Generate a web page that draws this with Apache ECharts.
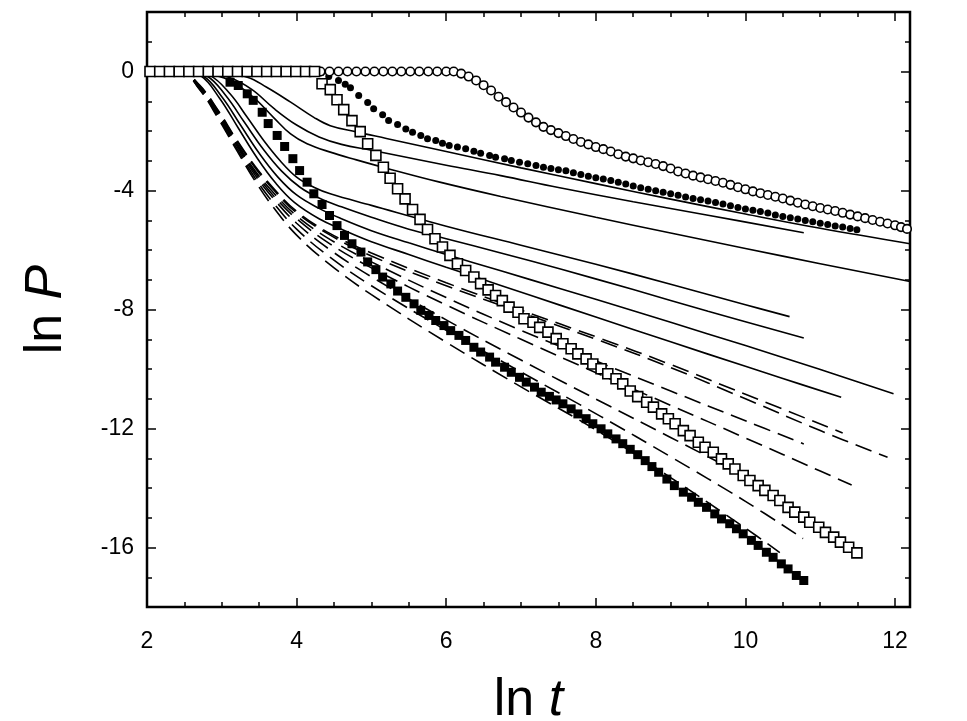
<!DOCTYPE html>
<html>
<head>
<meta charset="utf-8">
<script src="https://cdn.jsdelivr.net/npm/echarts@6.0.0/dist/echarts.min.js"></script>
<style>
  html, body { margin: 0; padding: 0; background: #fff; }
  #chart { width: 967px; height: 721px; }
</style>
</head>
<body>
<div id="chart"></div>
<script>
// tick labels
var xLabels = [2, 4, 6, 8, 10, 12];
var yLabels = [-16, -12, -8, -4, 0];

// open circles
var circles = [
  [2.04,0],[2.16,0],[2.28,0],[2.40,0],[2.52,0],[2.64,0],[2.76,0],[2.88,0],[3.00,0],[3.12,0],
  [3.24,0],[3.36,0],[3.48,0],[3.60,0],[3.72,0],[3.84,0],[3.96,0],[4.08,0],[4.20,0],[4.32,0],
  [4.44,0],[4.56,0],[4.68,0],[4.80,0],[4.92,0],[5.04,0],[5.16,0],[5.28,0],[5.40,0],[5.52,0],
  [5.64,0],[5.76,0],[5.88,0],[6.00,0],[6.10,0],
  [6.20,-0.07],[6.30,-0.17],[6.40,-0.30],[6.50,-0.46],[6.60,-0.64],[6.70,-0.85],[6.80,-1.03],
  [6.90,-1.21],[7.00,-1.38],[7.10,-1.55],[7.20,-1.71],[7.30,-1.86],[7.40,-1.97],[7.50,-2.07],
  [7.60,-2.17],[7.70,-2.27],[7.80,-2.37],[7.90,-2.45],[8.00,-2.54],[8.10,-2.61],[8.20,-2.69],
  [8.30,-2.78],[8.40,-2.86],[8.50,-2.92],[8.60,-2.99],[8.70,-3.05],[8.80,-3.11],[8.90,-3.18],
  [9.00,-3.26],[9.10,-3.36],[9.20,-3.43],[9.30,-3.50],[9.40,-3.56],[9.50,-3.62],[9.60,-3.68],
  [9.70,-3.74],[9.80,-3.81],[9.90,-3.89],[10.00,-3.96],[10.10,-4.03],[10.20,-4.09],[10.30,-4.15],
  [10.40,-4.21],[10.50,-4.27],[10.60,-4.34],[10.70,-4.41],[10.80,-4.47],[10.90,-4.53],[11.00,-4.59],
  [11.10,-4.64],[11.20,-4.69],[11.30,-4.75],[11.40,-4.81],[11.50,-4.87],[11.60,-4.93],[11.70,-4.99],
  [11.80,-5.05],[11.90,-5.11],[12.00,-5.17],[12.08,-5.23],[12.16,-5.29]
];

// small filled stars
var stars = [
  [2.04,0],[2.17,0],[2.30,0],[2.43,0],[2.56,0],[2.69,0],[2.82,0],[2.95,0],[3.08,0],[3.21,0],
  [3.34,0],[3.47,0],[3.60,0],[3.73,0],[3.86,0],[3.99,0],[4.12,0],[4.24,0],
  [4.33,-0.04],[4.43,-0.17],[4.56,-0.30],[4.65,-0.43],[4.72,-0.55],[4.83,-0.81],[4.95,-1.04],
  [5.03,-1.25],[5.15,-1.45],[5.23,-1.65],[5.35,-1.78],[5.46,-1.93],[5.55,-2.04],[5.66,-2.15],
  [5.75,-2.26],[5.86,-2.32],[5.95,-2.41],[6.04,-2.49],[6.15,-2.54],[6.26,-2.60],[6.37,-2.68],
  [6.46,-2.75],[6.58,-2.82],[6.66,-2.88],[6.78,-2.93],[6.87,-2.99],[6.98,-3.05],[7.09,-3.10],
  [7.20,-3.16],[7.30,-3.22],[7.40,-3.26],[7.50,-3.30],[7.60,-3.34],[7.70,-3.40],[7.80,-3.46],
  [7.90,-3.52],[8.00,-3.57],[8.10,-3.61],[8.20,-3.66],[8.30,-3.72],[8.40,-3.78],[8.50,-3.85],
  [8.60,-3.91],[8.70,-3.96],[8.80,-4.01],[8.90,-4.06],[9.00,-4.11],[9.10,-4.16],[9.20,-4.22],
  [9.30,-4.27],[9.40,-4.31],[9.50,-4.35],[9.60,-4.40],[9.70,-4.45],[9.80,-4.51],[9.90,-4.57],
  [10.00,-4.62],[10.10,-4.66],[10.20,-4.71],[10.30,-4.76],[10.40,-4.82],[10.50,-4.87],[10.60,-4.92],
  [10.70,-4.96],[10.80,-5.01],[10.90,-5.05],[11.00,-5.10],[11.10,-5.14],[11.20,-5.19],[11.30,-5.23],
  [11.40,-5.28],[11.49,-5.32]
];

// open squares
var openSquares = [
  [2.04,0],[2.17,0],[2.30,0],[2.43,0],[2.56,0],[2.69,0],[2.82,0],[2.95,0],[3.08,0],[3.21,0],
  [3.34,0],[3.47,0],[3.60,0],[3.73,0],[3.86,0],[3.99,0],[4.12,0],[4.24,0],
  [4.34,-0.41],[4.45,-0.61],[4.54,-0.95],[4.63,-1.28],[4.74,-1.65],[4.85,-2.02],[4.95,-2.43],
  [5.06,-2.82],[5.16,-3.22],[5.25,-3.59],[5.35,-3.94],[5.45,-4.28],[5.55,-4.64],[5.65,-4.97],
  [5.75,-5.31],[5.85,-5.62],[5.95,-5.90],[6.05,-6.18],[6.15,-6.46],[6.26,-6.69],[6.37,-6.91],
  [6.46,-7.13],[6.56,-7.34],[6.66,-7.53],[6.75,-7.70],[6.84,-7.92],[6.96,-8.09],[7.04,-8.31],
  [7.16,-8.43],[7.25,-8.60],[7.36,-8.76],[7.47,-8.98],[7.56,-9.15],[7.67,-9.32],[7.76,-9.49],
  [7.87,-9.66],[7.96,-9.83],[8.07,-9.99],[8.16,-10.16],[8.27,-10.33],[8.36,-10.50],[8.46,-10.74],
  [8.56,-10.93],[8.68,-11.12],[8.77,-11.28],[8.88,-11.51],[8.97,-11.67],[9.06,-11.84],[9.17,-12.07],
  [9.26,-12.24],[9.37,-12.46],[9.46,-12.63],[9.57,-12.80],[9.68,-13.02],[9.77,-13.19],[9.86,-13.36],
  [9.97,-13.58],[10.06,-13.75],[10.17,-13.92],[10.26,-14.08],[10.37,-14.25],[10.46,-14.42],
  [10.57,-14.65],[10.66,-14.81],[10.78,-14.98],[10.86,-15.15],[10.98,-15.32],[11.07,-15.49],
  [11.18,-15.65],[11.27,-15.82],[11.38,-15.99],[11.49,-16.18]
];

// filled squares
var filledSquares = [
  [3.11,-0.36],[3.22,-0.47],[3.34,-0.75],[3.42,-0.97],[3.54,-1.37],[3.62,-1.75],[3.74,-2.15],
  [3.84,-2.52],[3.95,-2.93],[4.04,-3.33],[4.14,-3.72],[4.23,-4.11],[4.34,-4.47],[4.44,-4.84],
  [4.54,-5.18],[4.64,-5.51],[4.74,-5.79],[4.86,-6.07],[4.95,-6.40],[5.06,-6.66],[5.15,-6.91],
  [5.26,-7.14],[5.35,-7.38],[5.46,-7.59],[5.57,-7.81],[5.66,-8.03],[5.77,-8.20],[5.86,-8.37],
  [5.97,-8.54],[6.06,-8.71],[6.17,-8.87],[6.26,-9.04],[6.37,-9.27],[6.46,-9.43],[6.58,-9.60],
  [6.66,-9.77],[6.78,-9.94],[6.87,-10.11],[6.98,-10.28],[7.07,-10.44],[7.18,-10.61],[7.27,-10.78],
  [7.38,-10.92],[7.47,-11.04],[7.56,-11.17],[7.67,-11.34],[7.76,-11.51],[7.87,-11.67],[7.96,-11.84],
  [8.07,-12.01],[8.16,-12.18],[8.27,-12.35],[8.36,-12.51],[8.46,-12.70],[8.56,-12.88],[8.66,-13.08],
  [8.75,-13.28],[8.84,-13.47],[8.95,-13.70],[9.05,-13.92],[9.17,-14.14],[9.28,-14.31],[9.37,-14.48],
  [9.48,-14.65],[9.59,-14.87],[9.68,-15.04],[9.79,-15.20],[9.88,-15.37],[9.97,-15.54],[10.08,-15.76],
  [10.17,-15.93],[10.28,-16.16],[10.37,-16.33],[10.48,-16.55],[10.57,-16.72],[10.68,-16.94],[10.78,-17.11]
];

// solid curves
var solid1 = [[2,0],[2.7,0],[3.1,-0.2],[3.4,-0.6],[3.7,-1.25],[4.0,-1.8],[4.3,-2.2],[4.6,-2.45],[5.0,-2.65],
  [5.5,-2.9],[6.0,-3.15],[6.73,-3.5],[7.5,-3.9],[8.5,-4.38],[9.5,-4.83],[10.78,-5.42]];
var solid2 = [[2,0],[2.89,0],[3.34,-0.19],[3.6,-0.53],[3.92,-1.03],[4.23,-1.54],[4.45,-1.82],[4.8,-2.03],
  [5.2,-2.25],[6.0,-2.69],[7.0,-3.24],[8.0,-3.77],[9.0,-4.29],[10.0,-4.79],[11.0,-5.27],[12.2,-5.79]];
var solid3 = [[2,0],[2.58,0],[2.85,-0.1],[3.11,-0.3],[3.42,-0.86],[3.69,-1.54],[3.92,-2.1],[4.14,-2.43],
  [4.45,-2.71],[4.8,-2.97],[5.2,-3.25],[5.9,-3.71],[6.73,-4.2],[8.0,-4.9],[9.0,-5.43],[10.0,-5.95],
  [11.0,-6.46],[12.2,-7.06]];
var solid4 = [[2,0],[2.55,0],[2.84,-0.13],[3.11,-0.75],[3.34,-1.54],[3.56,-2.32],[3.78,-3.0],[4.0,-3.55],
  [4.23,-3.89],[4.45,-4.11],[5.0,-4.5],[6.0,-5.2],[7.0,-5.84],[8.0,-6.48],[9.0,-7.15],[10.0,-7.84],[10.59,-8.24]];
var solid5 = [[2,0],[2.5,0],[2.8,-0.15],[3.05,-0.8],[3.3,-1.7],[3.55,-2.6],[3.8,-3.35],[4.05,-3.9],
  [4.3,-4.25],[4.6,-4.55],[5.0,-4.9],[5.5,-5.3],[6.0,-5.62],[6.73,-6.1],[7.54,-6.65],[8.5,-7.33],
  [9.5,-8.06],[10.78,-8.96]];
var solid6 = [[2,0],[2.45,0],[2.72,-0.15],[2.97,-0.9],[3.22,-1.9],[3.47,-2.9],[3.72,-3.75],[3.97,-4.4],
  [4.3,-4.95],[4.6,-5.3],[5.0,-5.72],[5.5,-6.15],[6.0,-6.58],[6.73,-7.19],[7.54,-7.87],[8.5,-8.67],
  [9.5,-9.5],[10.5,-10.32],[11.28,-10.95]];
var solid7 = [[2,0],[2.45,0],[2.75,-0.15],[3.0,-0.85],[3.25,-1.8],[3.5,-2.75],[3.75,-3.55],[4.0,-4.15],
  [4.3,-4.6],[4.6,-4.95],[5.0,-5.35],[5.5,-5.76],[6.0,-6.15],[6.73,-6.7],[7.54,-7.31],[8.5,-8.04],
  [9.5,-8.82],[10.5,-9.61],[11.98,-10.83]];

// dashed curves
var dash1 = [[2,0],[2.45,0],[2.7,-0.45],[2.95,-1.3],[3.2,-2.3],[3.45,-3.2],[3.7,-3.95],[4.0,-4.7],
  [4.45,-5.45],[5.0,-6.1],[6.0,-7.1],[7.0,-8.02],[8.07,-8.98],[9.0,-9.85],[10.0,-10.85],[11.3,-12.15]];
var dash2 = [[2,0],[2.45,0],[2.7,-0.47],[2.95,-1.33],[3.2,-2.33],[3.45,-3.25],[3.7,-4.0],[4.0,-4.75],
  [4.45,-5.5],[5.0,-6.2],[6.0,-7.2],[7.0,-8.1],[8.07,-9.06],[9.0,-9.95],[10.0,-11.0],[11.0,-12.07],[11.9,-12.97]];
var dash3 = [[2,0],[2.45,0],[2.7,-0.5],[2.95,-1.38],[3.2,-2.4],[3.45,-3.35],[3.7,-4.1],[4.0,-4.85],
  [4.45,-5.65],[5.0,-6.4],[6.0,-7.6],[7.0,-8.7],[8.07,-9.8],[9.0,-10.74],[10.0,-11.74],[10.78,-12.52]];
var dash4 = [[2,0],[2.45,0],[2.7,-0.52],[2.95,-1.42],[3.2,-2.45],[3.45,-3.42],[3.7,-4.2],[4.0,-4.95],
  [4.45,-5.8],[5.0,-6.6],[6.0,-7.85],[7.0,-9.0],[8.07,-10.2],[9.0,-11.22],[10.0,-12.32],[11.0,-13.43],[11.42,-13.9]];
var dash5 = [[2,0],[2.45,0],[2.7,-0.58],[2.95,-1.52],[3.2,-2.58],[3.45,-3.6],[3.7,-4.45],[4.0,-5.3],
  [4.45,-6.25],[5.0,-7.2],[6.0,-8.7],[7.0,-10.1],[8.07,-11.6],[9.0,-12.95],[10.0,-14.45],[10.77,-15.7]];
var dash6 = [[2,0],[2.45,0],[2.7,-0.6],[2.95,-1.57],[3.2,-2.65],[3.45,-3.7],[3.7,-4.6],[4.0,-5.5],
  [4.45,-6.5],[5.0,-7.5],[6.0,-9.1],[7.0,-10.6],[8.07,-12.15],[9.0,-13.65],[10.0,-15.35],[10.46,-16.17]];
var dash7 = [[2,0],[2.45,0],[2.7,-0.55],[2.95,-1.47],[3.2,-2.5],[3.45,-3.5],[3.7,-4.3],[4.0,-5.1],
  [4.45,-6.0],[5.0,-6.9],[6.0,-8.35],[7.0,-9.7],[8.07,-11.1],[9.0,-12.3],[10.0,-13.6],[10.4,-14.12]];

var FONT = 'Liberation Sans, Arial, sans-serif';

function curve(data, dashed) {
  return {
    type: 'line', data: data, symbol: 'none', silent: true,
    smooth: 0.4, z: 2,
    lineStyle: { color: '#000', width: 1.6, type: dashed ? [17, 8] : 'solid', cap: 'butt' }
  };
}

function markers(data, symbol, size, filled, z) {
  return {
    type: 'scatter', data: data, symbol: symbol, symbolSize: size, silent: true, clip: false, z: z,
    itemStyle: { color: filled ? '#000' : '#fff', borderColor: '#000', borderWidth: filled ? 0 : 1.6, opacity: 1 }
  };
}

function tickAxis(pos, isX, len, custom) {
  var ax = {
    type: 'value', position: pos,
    min: isX ? 2 : -18, max: isX ? 12.2 : 2, interval: isX ? 0.5 : 1,
    axisLine: { show: false, onZero: false }, splitLine: { show: false },
    axisTick: { inside: true, length: len, lineStyle: { color: '#000', width: 1.5 } },
    axisLabel: { show: false }
  };
  if (custom) ax.axisTick.customValues = custom;
  return ax;
}

var nameRich = {
  a: { fontSize: 52, fontFamily: FONT, color: '#000' },
  b: { fontSize: 52, fontFamily: FONT, color: '#000', fontStyle: 'italic' }
};

var xMain = tickAxis('bottom', true, 5);
xMain.axisLabel = { show: true, customValues: xLabels, color: '#000', fontSize: 23, fontFamily: FONT, margin: 23 };
xMain.name = '{a|ln }{b|t}';
xMain.nameLocation = 'middle';
xMain.nameGap = 68;
xMain.nameTextStyle = { rich: nameRich };

var yMain = tickAxis('left', false, 5);
yMain.axisLabel = { show: true, customValues: yLabels, color: '#000', fontSize: 23, fontFamily: FONT, margin: 13 };
yMain.name = '{a|ln }{b|P}';
yMain.nameLocation = 'middle';
yMain.nameGap = 74;
yMain.nameTextStyle = { rich: nameRich };

var chart = echarts.init(document.getElementById('chart'));
chart.setOption({
  animation: false,
  backgroundColor: '#fff',
  grid: {
    left: 147, right: 57, top: 12, bottom: 114, outerBoundsMode: 'none', containLabel: false,
    show: true, borderColor: '#000', borderWidth: 2.5, backgroundColor: 'transparent'
  },
  xAxis: [
    xMain,
    tickAxis('bottom', true, 9, xLabels),
    tickAxis('top', true, 5),
    tickAxis('top', true, 9, xLabels)
  ],
  yAxis: [
    yMain,
    tickAxis('left', false, 9, yLabels),
    tickAxis('right', false, 5),
    tickAxis('right', false, 9, yLabels)
  ],
  series: [
    curve(solid1), curve(solid2), curve(solid3), curve(solid4),
    curve(solid5), curve(solid6), curve(solid7),
    curve(dash1, true), curve(dash2, true), curve(dash3, true), curve(dash4, true),
    curve(dash5, true), curve(dash6, true), curve(dash7, true),
    markers(filledSquares, 'rect', 9, true, 3),
    markers(stars, 'circle', 7, true, 3),
    markers(circles, 'circle', 8.5, false, 4),
    markers(openSquares, 'rect', 10, false, 5)
  ]
});
</script>
</body>
</html>
